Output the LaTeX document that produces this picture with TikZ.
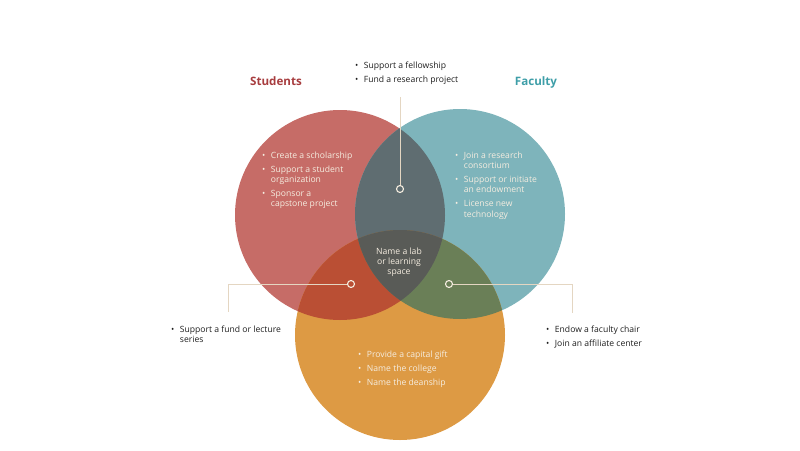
\documentclass[tikz,border=0pt]{standalone}
\usepackage{fontspec}
\setmainfont{Open Sans}
\usetikzlibrary{positioning}
\definecolor{stured}{RGB}{198,108,103}
\definecolor{facteal}{RGB}{126,180,187}
\definecolor{gorange}{RGB}{221,154,68}
\definecolor{rtmix}{RGB}{95,109,113}
\definecolor{romix}{RGB}{186,79,52}
\definecolor{tomix}{RGB}{106,127,87}
\definecolor{allmix}{RGB}{89,91,87}
\definecolor{headred}{RGB}{167,60,62}
\definecolor{headteal}{RGB}{62,158,168}
\definecolor{linkc}{RGB}{228,214,194}
\definecolor{cream}{RGB}{245,237,224}
\definecolor{txt}{RGB}{30,30,30}
\newcommand{\blt}{\textbullet}
\begin{document}
\begin{tikzpicture}[x=1pt, y=-1pt,
  every node/.style={font=\fontsize{8.6}{10.2}\selectfont, inner sep=0pt, text=txt},
  circ/.style={circle, minimum size=210pt},
  list/.style={anchor=base west, align=left},
  inlist/.style={list, text=cream},
  head/.style={font=\fontsize{11.6}{13}\selectfont\bfseries, anchor=base},
  link/.style={draw=linkc, line width=0.9pt},
  dot/.style={circle, draw=cream, line width=1.1pt, minimum size=7pt}
]
\useasboundingbox (0,0) rectangle (800,450);

% the three circles
\node[circ, fill=stured] (stu) at (340,215) {};
\node[circ, fill=facteal] (fac) at (460,214) {};
\node[circ, fill=gorange] (gift) at (400,335) {};

% overlaps
\begin{scope}
  \clip (stu.center) circle (105pt);
  \fill[rtmix] (fac.center) circle (105pt);
  \fill[romix] (gift.center) circle (105pt);
\end{scope}
\begin{scope}
  \clip (fac.center) circle (105pt);
  \fill[tomix] (gift.center) circle (105pt);
\end{scope}
\begin{scope}
  \clip (stu.center) circle (105pt);
  \clip (fac.center) circle (105pt);
  \fill[allmix] (gift.center) circle (105pt);
\end{scope}

% headings
\node[head, text=headred] (hstu) at (276,85) {Students};
\node[head, text=headteal] (hfac) at (536,85) {Faculty};

% lists inside the circles
\node[inlist] (lstu) at (262,158) {\begin{tabular}[t]{@{}l@{\hspace{5.5pt}}l@{}}
  \blt & Create a scholarship\\[4pt]
  \blt & Support a student\\ & organization\\[4pt]
  \blt & Sponsor a\\ & capstone project
\end{tabular}};
\node[inlist] (lfac) at (455,158) {\begin{tabular}[t]{@{}l@{\hspace{5.5pt}}l@{}}
  \blt & Join a research\\ & consortium\\[4pt]
  \blt & Support or initiate\\ & an endowment\\[4pt]
  \blt & License new\\ & technology
\end{tabular}};
\node[inlist] (lgift) at (358,357) {\begin{tabular}[t]{@{}l@{\hspace{5.5pt}}l@{}}
  \blt & Provide a capital gift\\[4pt]
  \blt & Name the college\\[4pt]
  \blt & Name the deanship
\end{tabular}};
\node[align=center, text=cream] (lab) at (399,262) {Name a lab\\or learning\\space};

% lists outside
\node[list] (ltop) at (355,68) {\begin{tabular}[t]{@{}l@{\hspace{5.5pt}}l@{}}
  \blt & Support a fellowship\\[4pt]
  \blt & Fund a research project
\end{tabular}};
\node[list] (lleft) at (171,332) {\begin{tabular}[t]{@{}l@{\hspace{5.5pt}}l@{}}
  \blt & Support a fund or lecture\\ & series
\end{tabular}};
\node[list] (lright) at (546,332) {\begin{tabular}[t]{@{}l@{\hspace{5.5pt}}l@{}}
  \blt & Endow a faculty chair\\[4pt]
  \blt & Join an affiliate center
\end{tabular}};

% pointers
\node[dot] (dtop) at (400,189) {};
\node[dot] (dleft) at (351,284) {};
\node[dot] (dright) at (449,284) {};
\coordinate (etop) at (400,97);
\coordinate (eleft) at (228,312);
\coordinate (eright) at (572,313);
\draw[link] (etop) -- (dtop);
\draw[link] (dleft) -| (eleft);
\draw[link] (dright) -| (eright);
\end{tikzpicture}
\end{document}
